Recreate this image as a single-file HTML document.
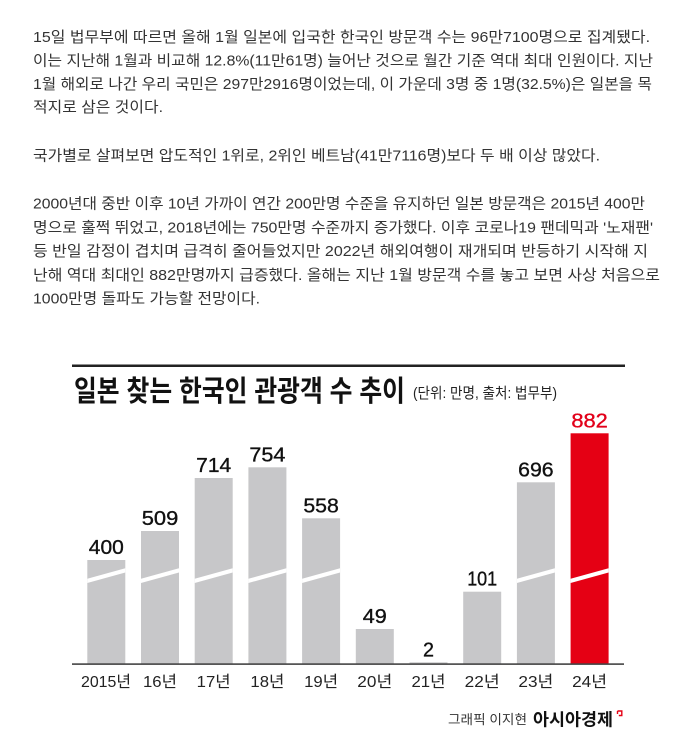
<!DOCTYPE html>
<html>
<head>
<meta charset="utf-8">
<style>
html,body{margin:0;padding:0;background:#fff;}
svg{display:block;}
.b{font-family:"Liberation Sans","Noto Sans CJK KR",sans-serif;font-size:15px;fill:#333;}
.t{font-family:"Liberation Sans","Noto Sans CJK KR",sans-serif;}
</style>
</head>
<body>
<svg width="683" height="748" viewBox="0 0 683 748" xmlns="http://www.w3.org/2000/svg">
<rect width="683" height="748" fill="#fff"/>
<!-- body text -->
<g class="b">
<text x="33" y="42" textLength="617" lengthAdjust="spacingAndGlyphs">15일 법무부에 따르면 올해 1월 일본에 입국한 한국인 방문객 수는 96만7100명으로 집계됐다.</text>
<text x="33" y="65.5" textLength="620" lengthAdjust="spacingAndGlyphs">이는 지난해 1월과 비교해 12.8%(11만61명) 늘어난 것으로 월간 기준 역대 최대 인원이다. 지난</text>
<text x="33" y="89" textLength="619" lengthAdjust="spacingAndGlyphs">1월 해외로 나간 우리 국민은 297만2916명이었는데, 이 가운데 3명 중 1명(32.5%)은 일본을 목</text>
<text x="33" y="112" textLength="130" lengthAdjust="spacingAndGlyphs">적지로 삼은 것이다.</text>
<text x="33" y="160.5" textLength="567" lengthAdjust="spacingAndGlyphs">국가별로 살펴보면 압도적인 1위로, 2위인 베트남(41만7116명)보다 두 배 이상 많았다.</text>
<text x="33" y="208.5" textLength="612" lengthAdjust="spacingAndGlyphs">2000년대 중반 이후 10년 가까이 연간 200만명 수준을 유지하던 일본 방문객은 2015년 400만</text>
<text x="33" y="232.3" textLength="620" lengthAdjust="spacingAndGlyphs">명으로 훌쩍 뛰었고, 2018년에는 750만명 수준까지 증가했다. 이후 코로나19 팬데믹과 '노재팬'</text>
<text x="33" y="256.1" textLength="615" lengthAdjust="spacingAndGlyphs">등 반일 감정이 겹치며 급격히 줄어들었지만 2022년 해외여행이 재개되며 반등하기 시작해 지</text>
<text x="33" y="279.9" textLength="627" lengthAdjust="spacingAndGlyphs">난해 역대 최대인 882만명까지 급증했다. 올해는 지난 1월 방문객 수를 놓고 보면 사상 처음으로</text>
<text x="33" y="303.7" textLength="227" lengthAdjust="spacingAndGlyphs">1000만명 돌파도 가능할 전망이다.</text>
</g>

<!-- chart -->
<rect x="72" y="364.5" width="553" height="2.5" fill="#222"/>
<text class="t" x="74" y="401" font-size="29" font-weight="bold" fill="#111" textLength="331" lengthAdjust="spacingAndGlyphs">일본 찾는 한국인 관광객 수 추이</text>
<text class="t" x="413" y="398" font-size="15" fill="#222" textLength="144" lengthAdjust="spacingAndGlyphs">(단위: 만명, 출처: 법무부)</text>

<!-- bars -->
<g fill="#c7c7c9">
<rect x="87.3" y="560" width="38" height="104"/>
<rect x="141" y="531" width="38" height="133"/>
<rect x="194.7" y="478" width="38" height="186"/>
<rect x="248.4" y="467.3" width="38" height="196.7"/>
<rect x="302.1" y="518.3" width="38" height="145.7"/>
<rect x="355.8" y="629" width="38" height="35"/>
<rect x="409.5" y="662.3" width="38" height="1.7"/>
<rect x="463.2" y="591.7" width="38" height="72.3"/>
<rect x="516.9" y="482.3" width="38" height="181.7"/>
</g>
<rect x="570.6" y="433.3" width="38" height="230.7" fill="#e50014"/>

<!-- break stripes -->
<g fill="#fff">
<polygon points="87.3,578.8 125.3,568.3 125.3,572.5 87.3,583"/>
<polygon points="141,578.8 179,568.3 179,572.5 141,583"/>
<polygon points="194.7,578.8 232.7,568.3 232.7,572.5 194.7,583"/>
<polygon points="248.4,578.8 286.4,568.3 286.4,572.5 248.4,583"/>
<polygon points="302.1,578.8 340.1,568.3 340.1,572.5 302.1,583"/>
<polygon points="516.9,578.8 554.9,568.3 554.9,572.5 516.9,583"/>
<polygon points="570.6,578.8 608.6,568.3 608.6,572.5 570.6,583"/>
</g>

<!-- axis -->
<rect x="72" y="663.3" width="552" height="1.6" fill="#444"/>

<!-- value labels -->
<g class="t" font-size="20" fill="#111" stroke="#111" stroke-width="0.35" text-anchor="middle">
<text x="106.3" y="554" textLength="35" lengthAdjust="spacingAndGlyphs">400</text>
<text x="160" y="525" textLength="36.5" lengthAdjust="spacingAndGlyphs">509</text>
<text x="213.7" y="472" textLength="35" lengthAdjust="spacingAndGlyphs">714</text>
<text x="267.4" y="461.3" textLength="36" lengthAdjust="spacingAndGlyphs">754</text>
<text x="321.1" y="512.3" textLength="35.5" lengthAdjust="spacingAndGlyphs">558</text>
<text x="374.8" y="623" textLength="24" lengthAdjust="spacingAndGlyphs">49</text>
<text x="428.5" y="656.3" textLength="11" lengthAdjust="spacingAndGlyphs">2</text>
<text x="482.2" y="585.7" textLength="30" lengthAdjust="spacingAndGlyphs">101</text>
<text x="535.9" y="476.3" textLength="35.5" lengthAdjust="spacingAndGlyphs">696</text>
<text x="589.6" y="427.3" textLength="36.5" lengthAdjust="spacingAndGlyphs" fill="#e2001a" stroke="#e2001a">882</text>
</g>

<!-- x labels -->
<g class="t" font-size="16" fill="#222" text-anchor="middle">
<text x="106" y="687" textLength="50" lengthAdjust="spacingAndGlyphs">2015년</text>
<text x="160" y="687" textLength="34" lengthAdjust="spacingAndGlyphs">16년</text>
<text x="213.7" y="687" textLength="34" lengthAdjust="spacingAndGlyphs">17년</text>
<text x="267.4" y="687" textLength="34" lengthAdjust="spacingAndGlyphs">18년</text>
<text x="321.1" y="687" textLength="34" lengthAdjust="spacingAndGlyphs">19년</text>
<text x="374.8" y="687" textLength="35" lengthAdjust="spacingAndGlyphs">20년</text>
<text x="428.5" y="687" textLength="34" lengthAdjust="spacingAndGlyphs">21년</text>
<text x="482.2" y="687" textLength="35" lengthAdjust="spacingAndGlyphs">22년</text>
<text x="535.9" y="687" textLength="35" lengthAdjust="spacingAndGlyphs">23년</text>
<text x="589.6" y="687" textLength="35" lengthAdjust="spacingAndGlyphs">24년</text>
</g>

<!-- credit -->
<text class="t" x="448" y="724" font-size="13" fill="#333" textLength="79" lengthAdjust="spacingAndGlyphs">그래픽 이지현</text>
<text class="t" x="533" y="725.5" font-size="17" font-weight="bold" fill="#111" textLength="80" lengthAdjust="spacingAndGlyphs">아시아경제</text>
<path d="M617.5,711 L621.8,711 L621.8,715.5 L618.8,715.5 M617.5,711 L617.5,714" stroke="#e50014" stroke-width="1.4" fill="none"/>
</svg>
</body>
</html>
